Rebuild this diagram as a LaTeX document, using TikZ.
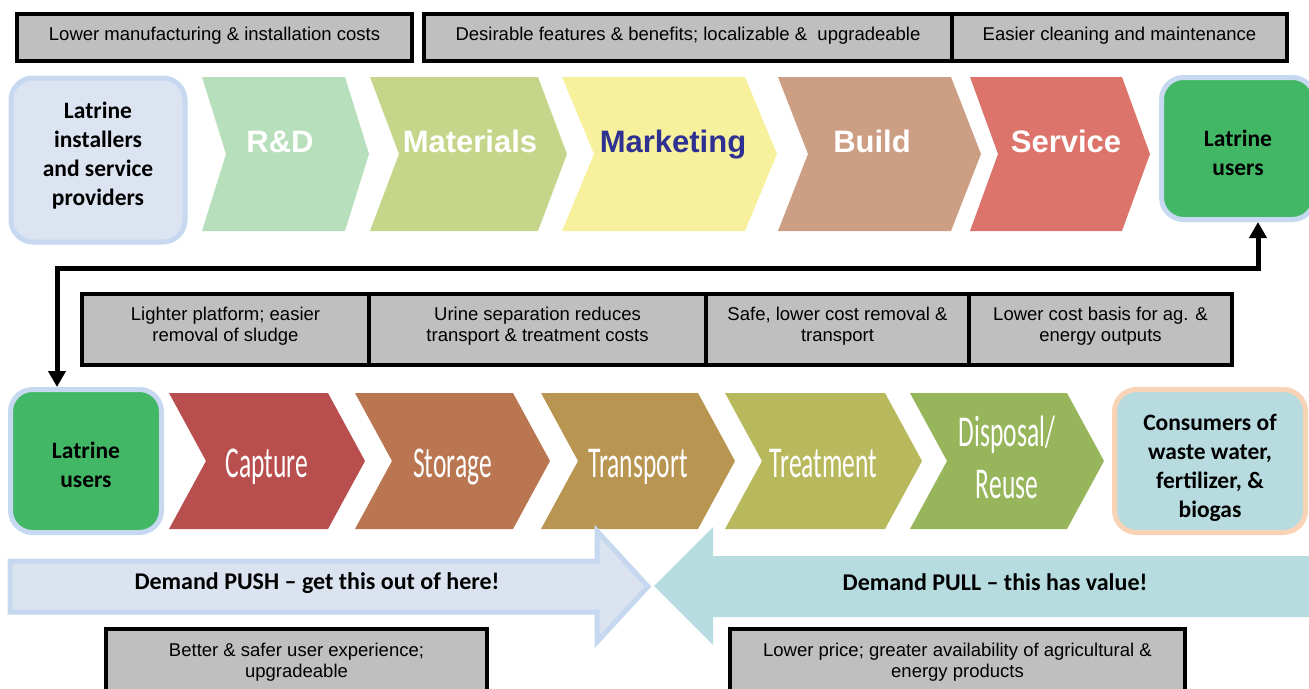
\documentclass[tikz,border=0pt]{standalone}
\usepackage{fontspec}
\setmainfont{Liberation Sans}
\newfontfamily\calibri{Carlito}
\newfontfamily\narrow[FakeStretch=0.58]{Carlito}
\usetikzlibrary{arrows.meta}

\definecolor{boxgray}{HTML}{BFBFBF}
\definecolor{actorfill}{HTML}{DCE3F1}
\definecolor{actorline}{HTML}{C6D9F1}
\definecolor{usergreen}{HTML}{42B866}
\definecolor{rdfill}{HTML}{B8DFBB}
\definecolor{matfill}{HTML}{C5D68A}
\definecolor{mktfill}{HTML}{F7F19E}
\definecolor{mktblue}{HTML}{2E3192}
\definecolor{buildfill}{HTML}{CC9E84}
\definecolor{servfill}{HTML}{DD746B}
\definecolor{capfill}{HTML}{B84E4D}
\definecolor{storfill}{HTML}{B97651}
\definecolor{transfill}{HTML}{B99552}
\definecolor{treatfill}{HTML}{B8B85C}
\definecolor{dispfill}{HTML}{97B55B}
\definecolor{consfill}{HTML}{B7DBDF}
\definecolor{consline}{HTML}{F9D3B5}
\definecolor{pushfill}{HTML}{DCE3F0}
\definecolor{pushline}{HTML}{C6D8EF}
\definecolor{pullfill}{HTML}{B7DCDF}

\begin{document}
\begin{tikzpicture}[x=1pt, y=-1pt,
  graybox/.style={draw, line width=4pt, fill=boxgray, align=center, inner sep=0pt,
    text depth=7pt, font=\fontsize{18.5}{21}\selectfont},
  actor/.style={draw=actorline, line width=5pt, rounded corners=22pt, align=center,
    inner sep=0pt, text depth=0pt, font=\calibri\bfseries\fontsize{23.5}{29}\selectfont},
  toplab/.style={text=white, text height=23pt, text depth=7pt,
    font=\bfseries\fontsize{31}{36}\selectfont},
  lowlab/.style={text=white, align=center, text height=28pt, text depth=9pt,
    font=\narrow\fontsize{44}{52}\selectfont},
  demand/.style={font=\calibri\bfseries\fontsize{24}{29}\selectfont},
  link/.style={line width=5pt,
    {Triangle[length=16pt,width=17pt]}-{Triangle[length=16pt,width=17pt]}}]
\clip (0,0) rectangle (1309,688);

% benefits above the supply chain
\node[graybox, minimum width=395pt, minimum height=47pt] (cost) at (214.5,37.5) {Lower manufacturing \& installation costs};
\node[graybox, minimum width=528pt, minimum height=47pt] (features) at (688,37.5) {Desirable features \& benefits; localizable \& \ upgradeable};
\node[graybox, minimum width=335pt, minimum height=47pt] (cleaning) at (1119.5,37.5) {Easier cleaning and maintenance};

% supply chain
\node[actor, fill=actorfill, minimum width=174pt, minimum height=164pt, text depth=12pt] (installers) at (98,160) {Latrine\\installers\\and service\\providers};
\foreach \name/\l/\r/\d/\cx/\col/\tcol/\txt in {
  rd/202/345/24/280/rdfill/white/R\&D,
  materials/370/538/29/470/matfill/white/Materials,
  marketing/562/745/32/673/mktfill/mktblue/Marketing,
  build/778/951/30/872/buildfill/white/Build,
  service/970/1122/28/1066/servfill/white/Service}
{
  \fill[\col] (\l,77) -- (\r,77) -- (\r+\d,154) -- (\r,231) -- (\l,231) -- (\l+\d,154) -- cycle;
  \node[toplab, text=\tcol] (\name) at (\cx,144) {\txt};
}
\node[actor, fill=usergreen, minimum width=153pt, minimum height=142pt, text height=53pt] (users1) at (1238,148.5) {Latrine\\users};

% benefits above the sanitation chain
\node[graybox, minimum width=287pt, minimum height=71pt, text depth=11pt] (platform) at (225.5,329.5) {Lighter platform; easier\\removal of sludge};
\node[graybox, minimum width=337pt, minimum height=71pt, text depth=11pt] (urine) at (537.5,329.5) {Urine separation reduces\\transport \& treatment costs};
\node[graybox, minimum width=263pt, minimum height=71pt, text depth=11pt] (removal) at (837.5,329.5) {Safe, lower cost removal \&\\transport};
\node[graybox, minimum width=263pt, minimum height=71pt, text depth=11pt] (basis) at (1100.5,329.5) {Lower cost basis for ag. \&\\energy outputs};

% sanitation chain
\node[actor, fill=usergreen, minimum width=151pt, minimum height=143pt, text height=53pt] (users2) at (86,461) {Latrine\\users};
\foreach \name/\l/\r/\ly/\col/\txt in {
  capture/169/328/467.5/capfill/Capture,
  storage/355/513/467.5/storfill/Storage,
  transport/541/698/467.5/transfill/Transport,
  treatment/725/885/467.5/treatfill/Treatment,
  disposal/910/1067/488.5/dispfill/{Disposal/\\Reuse}}
{
  \fill[\col] (\l,393) -- (\r,393) -- (\r+37,461) -- (\r,529) -- (\l,529) -- (\l+37,461) -- cycle;
  \node[lowlab] (\name) at ({(\l+\r+37)/2},\ly) {\txt};
}
\node[actor, draw=consline, fill=consfill, minimum width=191pt, minimum height=143pt, text height=112pt] (consumers) at (1210,461) {Consumers of\\waste water,\\fertilizer, \&\\biogas};

% users link the two chains
\draw[link] ([xshift=-29pt]users2.north) -- ++(0,-119) -| ([xshift=20pt]users1.south);

% push and pull
\filldraw[fill=pushfill, draw=pushline, line width=5pt] (10,561) -- (597,561) -- (597,531) -- (648,586.5) -- (597,642) -- (597,612) -- (10,612) -- cycle;
\fill[pullfill] (1320,556) -- (713,556) -- (713,527) -- (654,586) -- (713,645) -- (713,617) -- (1320,617) -- cycle;
\node[demand] (push) at (317,583.5) {Demand PUSH – get this out of here!};
\node[demand] (pull) at (995,582) {Demand PULL – this has value!};

% benefits below
\node[graybox, minimum width=381pt, minimum height=70pt] (experience) at (296.5,664) {Better \& safer user experience;\\upgradeable};
\node[graybox, minimum width=455pt, minimum height=70pt] (price) at (957.5,664) {Lower price; greater availability of agricultural \&\\energy products};
\end{tikzpicture}
\end{document}
